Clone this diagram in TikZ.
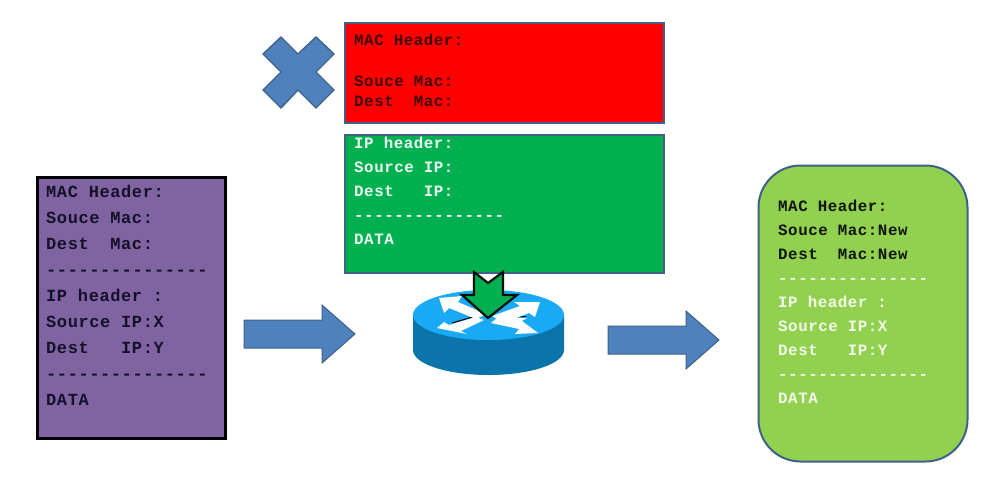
\documentclass[tikz,border=0pt]{standalone}
\usepackage{fontspec}
\setmonofont{Liberation Mono}[LetterSpace=3.5]
\definecolor{bluefill}{HTML}{4F81BD}
\definecolor{blueedge}{HTML}{3F6187}
\definecolor{purplefill}{HTML}{8064A2}
\definecolor{redfill}{HTML}{FF0000}
\definecolor{greenfill}{HTML}{00B050}
\definecolor{limefill}{HTML}{92D050}
\definecolor{darktxt}{HTML}{15102A}
\definecolor{routertop}{HTML}{19A9F5}
\definecolor{routerside}{HTML}{0B75AB}
\definecolor{shade}{HTML}{0A3A5A}
\newcommand{\lightline}[1]{\textcolor{white!88!limefill}{#1}}
\tikzset{
 x=1pt,y=-1pt,
 block/.style={draw=blueedge,line width=2pt,outer sep=0pt,inner sep=0pt,anchor=north west},
 blockarrow/.style={draw=blueedge,line width=1pt,fill=bluefill},
 txt/.style={anchor=north west,align=left,inner sep=0pt,font=\ttfamily\bfseries\fontsize{15.8}{#1}\selectfont},
 txtbig/.style={anchor=north west,align=left,inner sep=0pt,font=\ttfamily\bfseries\fontsize{17}{#1}\selectfont},
}
\begin{document}
\begin{tikzpicture}
\useasboundingbox (0,0) rectangle (998,482);
% left packet
\node[block,draw=black,line width=2.6pt,fill=purplefill,minimum width=188pt,minimum height=261pt] (left) at (37.5,177.5) {};
\node[txtbig=26,text=darktxt] (lefttext) at (46,185) {MAC Header:\\Souce Mac:\\Dest~~Mac:\\---------------\\IP header :\\Source IP:X\\Dest~~~IP:Y\\---------------\\DATA};
% right packet
\node[block,fill=limefill,rounded corners=42pt,minimum width=209pt,minimum height=296pt] (right) at (758.5,165.5) {};
\node[txt=24,text=black!90!limefill] (righttext) at (778,200) {MAC Header:\\Souce Mac:New\\Dest~~Mac:New\\\lightline{---------------}\\\lightline{IP header :}\\\lightline{Source IP:X}\\\lightline{Dest~~~IP:Y}\\\lightline{---------------}\\\lightline{DATA}};
% red and green
\node[block,fill=redfill,minimum width=319pt,minimum height=100pt] (mac) at (345,22.5) {};
\node[txt=20.4,text=black!75!redfill] (mactext) at (354,34) {MAC Header:\\[20.4pt]Souce Mac:\\Dest~~Mac:};
\node[block,fill=greenfill,minimum width=319pt,minimum height=138pt] (ip) at (345,134.5) {};
\node[txt=24,text=white!92!greenfill] (iptext) at (354,137) {IP header:\\Source IP:\\Dest~~~IP:\\---------------\\DATA};
% cross
\draw[blockarrow,line width=1.4pt] (281,37)--(298,54)--(316,37)--(334,54)--(316,72)--(334,90)--(316,108)--(298,90)--(281,108)--(263,90)--(281,72)--(263,54)--cycle;
% router
\fill[routerside] (413,315) -- (413,350) arc[start angle=180,end angle=0,x radius=75.5,y radius=25] -- (564,315) -- cycle;
\fill[routertop] (488.5,315) ellipse[x radius=75.5,y radius=25];
\draw[shade,line width=1pt] (452,323)--(476,316);
\draw[shade,line width=1pt] (497,316)--(526,316);
\fill[white] (439,298)--(462,296)--(458,302)--(486,314)--(476,319)--(449,308)--(444,313)--cycle;
\fill[white] (540,302)--(535,317)--(529,313)--(504,323)--(492,316)--(520,306)--(514,302)--cycle;
\fill[white] (437,328)--(444,322)--(449,325)--(476,317)--(484,320)--(461,331)--(467,334)--cycle;
\fill[white] (538,333)--(515,334)--(519,329)--(491,323)--(497,318)--(527,318)--(522,321)--cycle;
% green arrow into router
\draw[fill=greenfill,draw=black!90!greenfill,line width=2.2pt] (474,272)--(488,283)--(503,272)--(503,295)--(517,295)--(488,318)--(462,295)--(474,295)--cycle;
% flow arrows
\coordinate (a2) at (355,334);
\coordinate (b2) at (719,340);
\draw[blockarrow] (244,320)--(322,320)--(322,305)--(a2)--(322,363)--(322,348)--(244,348)--cycle;
\draw[blockarrow] (608,326)--(686,326)--(686,311)--(b2)--(686,369)--(686,354)--(608,354)--cycle;
\end{tikzpicture}
\end{document}
